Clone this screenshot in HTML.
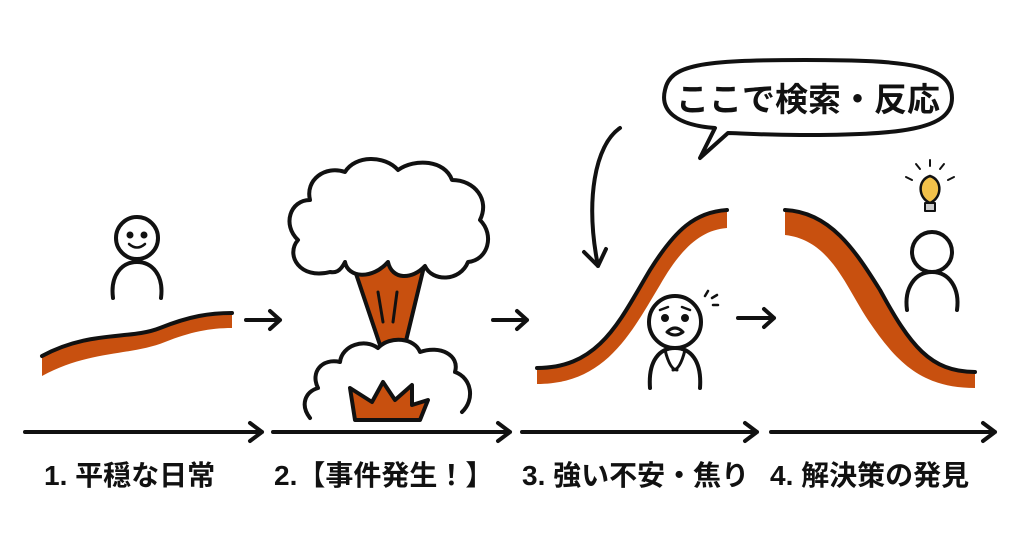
<!DOCTYPE html>
<html><head><meta charset="utf-8"><style>
html,body{margin:0;padding:0;background:#fff;}
svg{display:block}
text{font-family:"Liberation Sans","Noto Sans CJK JP",sans-serif;font-weight:bold;fill:#111}
</style></head><body>
<svg width="1024" height="559" viewBox="0 0 1024 559" xmlns="http://www.w3.org/2000/svg">
<g fill="none" stroke="#111" stroke-width="4" stroke-linecap="round" stroke-linejoin="round">
<!-- curve 1 -->
<path d="M42 356 C90 330,130 340,160 328 C190 316,210 313,232 313 L232 328 C210 328,190 332,165 342 C130 356,90 350,42 376 Z" fill="#c8500f" stroke="none"/>
<path d="M42 356 C90 330,130 340,160 328 C190 316,210 313,232 313"/>
<!-- curve 3 -->
<path d="M537 368 C600 368,620 320,650 270 C675 230,695 212,727 210 L727 228 C700 230,680 250,660 285 C630 335,605 384,537 384 Z" fill="#c8500f" stroke="none"/>
<path d="M537 368 C600 368,620 320,650 270 C675 230,695 212,727 210"/>
<!-- curve 4 -->
<path d="M785 210 C830 212,855 250,880 290 C910 345,930 372,975 372 L975 388 C920 388,895 360,868 320 C845 285,830 240,785 235 Z" fill="#c8500f" stroke="none"/>
<path d="M785 210 C830 212,855 250,880 290 C910 345,930 372,975 372"/>
<!-- timeline arrows -->
<path d="M25 432 H262 M250 423 L262 432 L250 441"/>
<path d="M273 432 H510 M498 423 L510 432 L498 441"/>
<path d="M522 432 H757 M745 423 L757 432 L745 441"/>
<path d="M771 432 H995 M983 423 L995 432 L983 441"/>
<!-- small arrows -->
<path d="M246 320 H280 M270 311 L280 320 L270 329"/>
<path d="M493 320 H527 M517 311 L527 320 L517 329"/>
<path d="M738 318 H774 M764 309 L774 318 L764 327"/>
<!-- person 1 -->
<circle cx="137" cy="238" r="21" fill="#fff"/>
<path d="M113 298 C110 275,122 262,137 262 C152 262,164 275,161 298"/>
<circle cx="130" cy="235" r="1.5" fill="#111"/><circle cx="144" cy="235" r="1.5" fill="#111"/>
<path d="M129 244 Q137 251 145 244" stroke-width="2.5"/>
<!-- person 4 -->
<circle cx="932" cy="252" r="20" fill="#fff"/>
<path d="M907 310 C904 288,915 272,932 272 C949 272,960 288,957 310"/>
<!-- bulb -->
<path d="M930 203 C918 198,917 180,930 176 C943 180,942 198,930 203 Z" fill="#f2c14a" stroke-width="2.5"/>
<path d="M925 203 h10 v8 h-10 z" fill="#ccc" stroke-width="2"/>
<path d="M930 160 v6 M916 164 l4 5 M944 164 l-4 5 M906 177 l6 3 M954 177 l-6 3" stroke-width="2"/>
<!-- worried person -->
<circle cx="675" cy="322" r="26" fill="#fff"/>
<path d="M650 388 C648 360,660 348,675 348 C690 348,702 360,700 388"/>
<path d="M665 350 q5 20 12 20 M685 350 q-5 20 -12 20" stroke-width="3"/>
<path d="M667 332 q8 -8 16 0 q-8 6 -16 0z" fill="#fff" stroke-width="3"/>
<circle cx="665" cy="318" r="2" fill="#111"/><circle cx="685" cy="318" r="2" fill="#111"/>
<path d="M660 310 l8 -3 M690 310 l-8 -3" stroke-width="2.5"/>
<path d="M705 296 l3 -5 M712 298 l5 -3 M713 305 l5 0" stroke-width="2.5"/>
<!-- speech bubble -->
<path d="M700 158 L715 128 C675 125,660 110,665 90 C670 65,700 60,805 60 C910 60,952 65,952 98 C952 130,900 135,800 135 C760 135,740 133,728 133 Z" fill="#fff"/>
<!-- curved arrow -->
<path d="M620 128 C595 145,585 200,598 266 M584 252 L598 266 L606 249"/>
<!-- mushroom stem (behind cloud) -->
<path d="M348 250 L428 250 L405 345 L380 345 Z" fill="#c8500f"/>
<path d="M378 292 l5 30 M397 292 l-4 30" stroke-width="3"/>
<!-- top cloud -->
<path d="M330 272 C300 280,285 255,298 240 C282 225,290 200,310 200 C305 180,325 165,345 172 C355 155,385 155,398 170 C415 158,445 160,452 180 C475 180,490 200,480 220 C495 235,488 260,468 262 C460 282,432 282,425 266 C412 280,392 280,388 262 C372 280,348 278,345 262 C340 272,335 273,330 272 Z" fill="#fff"/>
<!-- bottom cloud -->
<path d="M310 418 C300 405,305 392,318 388 C310 372,322 358,340 362 C342 345,365 338,378 348 C390 335,415 338,420 352 C440 345,460 355,455 372 C472 378,475 400,462 412 L462 420 L310 420 Z" fill="#fff" stroke="none"/>
<path d="M310 418 C300 405,305 392,318 388 C310 372,322 358,340 362 C342 345,365 338,378 348 C390 335,415 338,420 352 C440 345,460 355,455 372 C472 378,475 400,462 412"/>
<path d="M355 420 L350 388 L372 402 L383 382 L395 400 L412 385 L412 405 L428 400 L420 420 Z" fill="#c8500f"/>
</g>
<text x="808" y="111" font-size="33" text-anchor="middle">ここで検索・反応</text>
<text x="44" y="485" font-size="28">1. 平穏な日常</text>
<text x="274" y="485" font-size="28">2.【事件発生！】</text>
<text x="522" y="485" font-size="28">3. 強い不安・焦り</text>
<text x="770" y="485" font-size="28">4. 解決策の発見</text>
</svg>
</body></html>
